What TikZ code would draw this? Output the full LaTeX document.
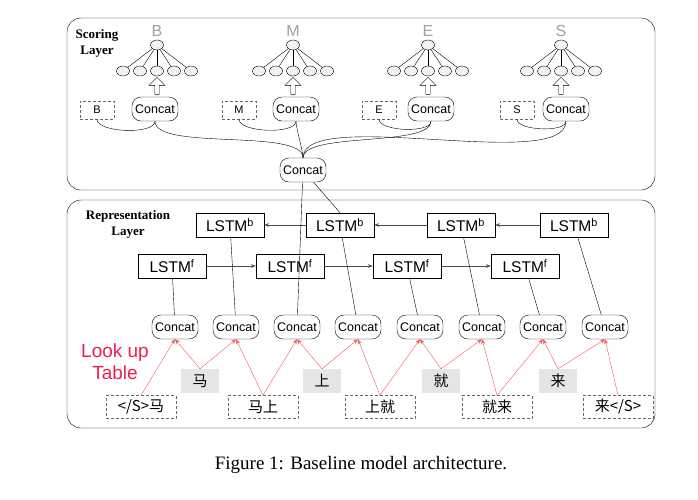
\documentclass[tikz,border=0pt]{standalone}
\usepackage{fontspec}
\setmainfont{Liberation Serif}
\newfontfamily\sansf{Liberation Sans}
\newfontfamily\cjk{Noto Sans CJK SC}
\usetikzlibrary{positioning,shapes.arrows,shapes.geometric,arrows.meta}
\definecolor{lookred}{RGB}{240,30,80}
\definecolor{arrred}{RGB}{240,90,90}
\definecolor{lettgray}{RGB}{160,160,160}
\tikzset{
  concat/.style={draw,rounded corners=9pt,inner sep=2pt,minimum width=46pt,minimum height=24pt,font=\sansf\fontsize{12.5}{12.5}\selectfont},
  lstm/.style={draw,fill=white,minimum width=68pt,minimum height=24pt,inner sep=1pt,font=\sansf\fontsize{15.5}{15.5}\selectfont},
  tag/.style={draw,densely dashed,gray!80!black,text=black,minimum width=34pt,minimum height=18pt,font=\sansf\fontsize{11}{11}\selectfont},
  gram/.style={draw,densely dashed,gray!80!black,text=black,minimum width=70pt,minimum height=23pt,font=\cjk\fontsize{15}{15}\selectfont},
  char/.style={fill=gray!20,minimum width=38pt,minimum height=24pt,font=\cjk\fontsize{15}{15}\selectfont},
  unit/.style={draw,ellipse,fill=gray!10,minimum width=13pt,minimum height=10pt,inner sep=0pt},
  red arrow/.style={-{Stealth[length=5pt,width=4pt]},arrred},
  layer/.style={font=\bfseries\fontsize{13}{16}\selectfont,align=center}
}
\begin{document}
\begin{tikzpicture}[x=1pt,y=-1pt,>=Stealth]
\useasboundingbox (0,0) rectangle (698,499);

% the two layers
\draw[rounded corners=14pt] (67,18) rectangle (655,190);
\draw[rounded corners=14pt] (67,200) rectangle (655,428);
\node[layer] at (97,43) {Scoring\\Layer};
\node[layer] at (128,224) {Representation\\Layer};

% scoring layer: output units, tags and concats
\foreach \t/\x/\bx/\dx in {B/157/155/97,M/293/296/239,E/428/431/379,S/561/566/517}{
  \node[font=\sansf\fontsize{16}{16}\selectfont,text=lettgray] (lab\t) at (\x,31) {\t};
  \node[unit] (top\t) at (\x,45) {};
  \foreach \i in {1,...,5}{
    \node[unit] (u\t\i) at (\x-51+17*\i,71) {};
    \draw (top\t) -- (u\t\i);
  }
  \node[single arrow,draw,fill=white,rotate=90,minimum height=17pt,minimum width=16pt,
        single arrow head extend=3pt,inner sep=1pt] (up\t) at (\x,87) {};
  \node[concat] (cat\t) at (\bx,109) {Concat};
  \node[tag] (tag\t) at (\dx,110) {\t};
}
\node[concat] (cat) at (303,170) {Concat};
\foreach \t in {B,M,E,S}{
  \draw (tag\t.south) to[out=-90,in=-90,looseness=0.6] (cat\t.south);
  \draw (cat\t.south) to[out=-90,in=90,looseness=0.5] (cat.north);
}

% representation layer
\foreach \n/\x in {1/230,2/340,3/461,4/574}
  \node[lstm] (b\n) at (\x,225) {LSTM\textsuperscript{b}};
\foreach \n/\x in {1/172,2/290,3/407,4/525}
  \node[lstm] (f\n) at (\x,266) {LSTM\textsuperscript{f}};
\foreach \a/\b in {4/3,3/2,2/1}
  \draw[->,gray!60!black] (b\a) -- (b\b);
\foreach \a/\b in {1/2,2/3,3/4}
  \draw[->,gray!60!black] (f\a) -- (f\b);

\foreach \n/\x in {1/175,2/236,3/297,4/358,5/420,6/482,7/543,8/605}
  \node[concat] (c\n) at (\x,327) {Concat};
\draw (f1) -- (c1);
\draw (b1) -- (c2);
\draw (cat) -- (c3);
\draw (cat) -- (b2.north);
\draw (b2) -- (c4);
\draw (f3) -- (c5);
\draw (b3) -- (c6);
\draw (f4) -- (c7);
\draw (b4) -- (c8);

% look up table
\node[font=\sansf\fontsize{19}{22}\selectfont,text=lookred,align=center] (look) at (115,362) {Look up\\Table};
\foreach \n/\x/\s in {1/141/{</S>马},2/263/{马上},3/380/{上就},4/497/{就来},5/618/{来</S>}}
  \node[gram] (g\n) at (\x,407) {\s};
\foreach \n/\x/\s in {1/200/马,2/322/上,3/441/就,4/558/来}
  \node[char] (h\n) at (\x,381) {\s};

\draw[red arrow] (g1.north) -- (c1.south);
\draw[red arrow] (h1.north) -- (c1.south);
\draw[red arrow] (h1.north) -- (c2.south);
\draw[red arrow] (g2.north) -- (c2.south);
\draw[red arrow] (g2.north) -- (c3.south);
\draw[red arrow] (h2.north) -- (c3.south);
\draw[red arrow] (h2.north) -- (c4.south);
\draw[red arrow] (g3.north) -- (c4.south);
\draw[red arrow] (g3.north) -- (c5.south);
\draw[red arrow] (h3.north) -- (c5.south);
\draw[red arrow] (h3.north) -- (c6.south);
\draw[red arrow] (g4.north) -- (c6.south);
\draw[red arrow] (g4.north) -- (c7.south);
\draw[red arrow] (h4.north) -- (c7.south);
\draw[red arrow] (h4.north) -- (c8.south);
\draw[red arrow] (g5.north) -- (c8.south);

\node[font=\fontsize{19}{22}\selectfont] (caption) at (361,465) {Figure 1: Baseline model architecture.};
\end{tikzpicture}
\end{document}
